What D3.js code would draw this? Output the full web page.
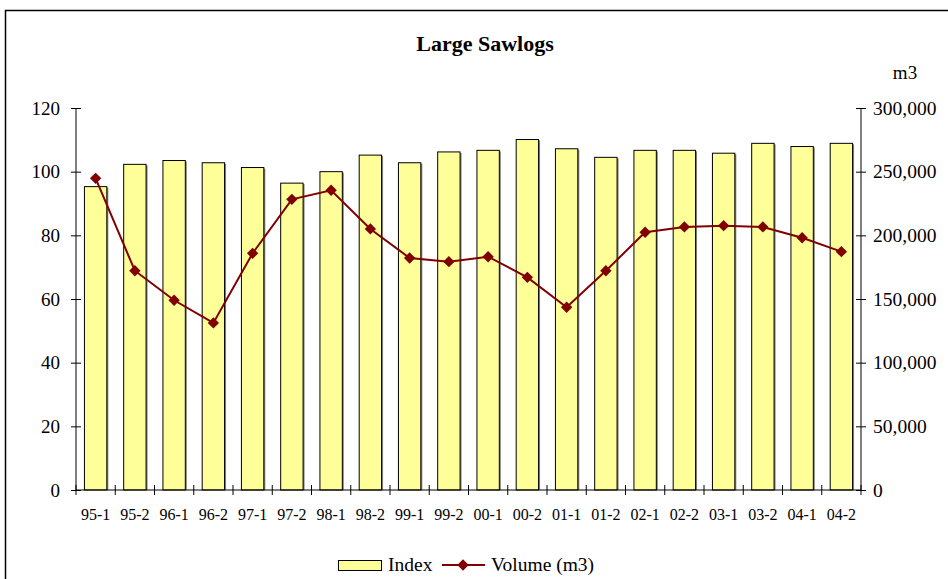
<!DOCTYPE html>
<html>
<head>
<meta charset="utf-8">
<script src="https://cdn.jsdelivr.net/npm/d3@7"></script>
<style>
  body { margin: 0; background: #fff; }
  text { font-family: "Liberation Serif", "Times New Roman", serif; fill: #000; }
</style>
</head>
<body>
<svg id="chart"></svg>
<script>
// data
var periods = ["95-1","95-2","96-1","96-2","97-1","97-2","98-1","98-2","99-1","99-2",
               "00-1","00-2","01-1","01-2","02-1","02-2","03-1","03-2","04-1","04-2"];
var indexValues = [95.3,102.3,103.5,102.8,101.3,96.4,100.0,105.2,102.8,106.2,
                   106.7,110.1,107.2,104.5,106.7,106.7,105.8,108.9,107.9,108.9];
var volumeValues = [244800,172200,149000,131200,185900,228300,235400,205000,182200,179300,
                    183200,167000,143500,172200,202400,206600,207600,206600,198100,187200];
var leftTicks = [0,20,40,60,80,100,120];
var rightTicks = [0,50000,100000,150000,200000,250000,300000];

var W = 948, H = 579;
var margin = {top: 108, right: 87, bottom: 89, left: 76},
    width = W - margin.left - margin.right,
    height = H - margin.top - margin.bottom;

var svg0 = d3.select("#chart").attr("width", W).attr("height", H);

// outer frame
svg0.append("rect")
    .attr("x", 5.5).attr("y", 10.5)
    .attr("width", W).attr("height", H)
    .attr("fill", "none").attr("stroke", "#000").attr("stroke-width", 1.5);

svg0.append("text")
    .attr("x", 485).attr("y", 51)
    .attr("text-anchor", "middle")
    .style("font-size", "22px").style("font-weight", "bold")
    .text("Large Sawlogs");

svg0.append("text")
    .attr("x", 905).attr("y", 79)
    .attr("text-anchor", "middle")
    .style("font-size", "19px")
    .text("m3");

var svg = svg0.append("g")
    .attr("transform", "translate(" + margin.left + "," + margin.top + ")");

var x = d3.scaleBand().domain(periods).range([0, width]).paddingInner(0.43).paddingOuter(0.215);
var yL = d3.scaleLinear().domain([0, 120]).range([height, 0]);
var yR = d3.scaleLinear().domain([0, 300000]).range([height, 0]);

// bars (gray shadow edge on the right, like the original)
svg.selectAll(".shadow")
    .data(periods)
  .enter().append("rect")
    .attr("class", "shadow")
    .attr("fill", "#808080")
    .attr("x", function(d) { return x(d) + 1.5; })
    .attr("width", x.bandwidth())
    .attr("y", function(d, i) { return yL(indexValues[i]) + 1; })
    .attr("height", function(d, i) { return height - yL(indexValues[i]) - 1; });

svg.selectAll(".bar")
    .data(periods)
  .enter().append("rect")
    .attr("class", "bar")
    .attr("fill", "#FFFF99")
    .attr("stroke", "#000")
    .attr("stroke-width", 1)
    .attr("x", function(d) { return x(d); })
    .attr("width", x.bandwidth())
    .attr("y", function(d, i) { return yL(indexValues[i]); })
    .attr("height", function(d, i) { return height - yL(indexValues[i]); });

// left axis
var gl = svg.append("g")
    .call(d3.axisLeft(yL).tickValues(leftTicks).tickSize(10).tickPadding(6));
gl.select(".domain").attr("d", "M0," + height + "V0").attr("stroke", "#000");
gl.selectAll(".tick line").attr("x1", 5).attr("x2", -5);
gl.selectAll(".tick text").attr("x", -16).style("font-size", "19px")
    .style("font-family", "Liberation Serif");

// right axis
var gr = svg.append("g")
    .attr("transform", "translate(" + width + ",0)")
    .call(d3.axisRight(yR).tickValues(rightTicks).tickSize(10)
          .tickFormat(d3.format(",")));
gr.select(".domain").attr("d", "M0," + height + "V0").attr("stroke", "#000");
gr.selectAll(".tick line").attr("x1", -5).attr("x2", 5);
gr.selectAll(".tick text").attr("x", 12).style("font-size", "19.5px")
    .style("font-family", "Liberation Serif");

// bottom axis: labels from band scale, ticks at band boundaries
var gb = svg.append("g")
    .attr("transform", "translate(0," + height + ")")
    .call(d3.axisBottom(x).tickSize(0));
gb.select(".domain").attr("d", "M0,0H" + width).attr("stroke", "#000");
gb.selectAll(".tick text").attr("y", 19).style("font-size", "16px")
    .style("font-family", "Liberation Serif");
gb.selectAll(".bound")
    .data(d3.range(periods.length + 1))
  .enter().append("line")
    .attr("x1", function(i) { return i * x.step(); })
    .attr("x2", function(i) { return i * x.step(); })
    .attr("y1", -5).attr("y2", 5)
    .attr("stroke", "#000");

// volume line
var line = d3.line()
    .x(function(d, i) { return x(periods[i]) + x.bandwidth() / 2; })
    .y(function(d) { return yR(d); });

svg.append("path")
    .datum(volumeValues)
    .attr("fill", "none")
    .attr("stroke", "#800000")
    .attr("stroke-width", 2)
    .attr("d", line);

svg.selectAll(".pt")
    .data(volumeValues)
  .enter().append("path")
    .attr("class", "pt")
    .attr("d", d3.symbol(d3.symbolSquare, 64))
    .attr("fill", "#800000")
    .attr("transform", function(d, i) {
        return "translate(" + (x(periods[i]) + x.bandwidth() / 2) + "," + yR(d) + ") rotate(45)";
    });

// legend
var lg = svg0.append("g");
lg.append("rect")
    .attr("x", 338.5).attr("y", 560.5).attr("width", 43).attr("height", 10)
    .attr("fill", "#FFFF99").attr("stroke", "#000");
lg.append("text").attr("x", 388).attr("y", 571).style("font-size", "19.5px").text("Index");
lg.append("line")
    .attr("x1", 442).attr("x2", 485).attr("y1", 565).attr("y2", 565)
    .attr("stroke", "#800000").attr("stroke-width", 2);
lg.append("path")
    .attr("d", d3.symbol(d3.symbolSquare, 64))
    .attr("fill", "#800000")
    .attr("transform", "translate(463,565) rotate(45)");
lg.append("text").attr("x", 491).attr("y", 571).style("font-size", "19.5px").text("Volume (m3)");
</script>
</body>
</html>
